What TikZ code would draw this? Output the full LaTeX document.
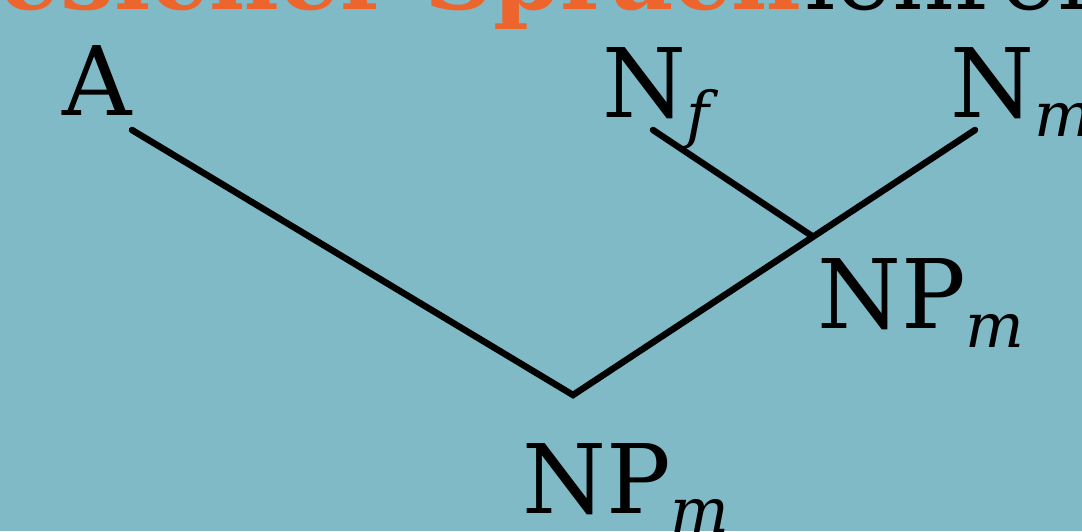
\documentclass[tikz,border=0pt]{standalone}
\usepackage{fontspec}
\setmainfont{DejaVu Serif}
\definecolor{bg}{RGB}{129,186,199}
\definecolor{hl}{RGB}{238,100,45}
\newcommand\lsub[1]{\raisebox{-19pt}{\fontsize{62}{62}\selectfont\itshape #1}}
\tikzset{
  lab/.style={anchor=base west, inner sep=0pt, font=\fontsize{96}{96}\selectfont},
  ttl/.style={inner sep=0pt, font=\fontsize{96}{96}\selectfont},
  edge/.style={line width=6.5pt, line cap=round, line join=miter},
}
\begin{document}
\begin{tikzpicture}[x=1pt,y=-1pt]
\useasboundingbox (0,0) rectangle (1082,531);
\fill[bg] (0,0) rectangle (1082,531);
\clip (0,0) rectangle (1082,531);
% clipped title
\node[ttl, anchor=base east, text=hl, font=\fontsize{96}{96}\selectfont\bfseries] (t1) at (802,9) {esicher Sprach};
\node[ttl, anchor=base west] (t2) at ([xshift=3pt]t1.base east) {lehrer};
% labels
\node[lab] (A) at (62,115) {A};
\node[lab] (Nf) at (602,117) {N\lsub{f}};
\node[lab] (Nm) at (950,117) {N\lsub{m}};
\node[lab] (NPm1) at (817,328) {NP\lsub{m}};
\node[lab] (NPm0) at (522,513) {NP\lsub{m}};
% tree points
\coordinate (a1) at (132,130);
\coordinate (f1) at (653,130);
\coordinate (m1) at (975,130);
\coordinate (j) at (812,236);
\coordinate (r) at (573,395);
\draw[edge] (a1) -- (r) -- (m1);
\draw[edge] (f1) -- (j);
\end{tikzpicture}
\end{document}
